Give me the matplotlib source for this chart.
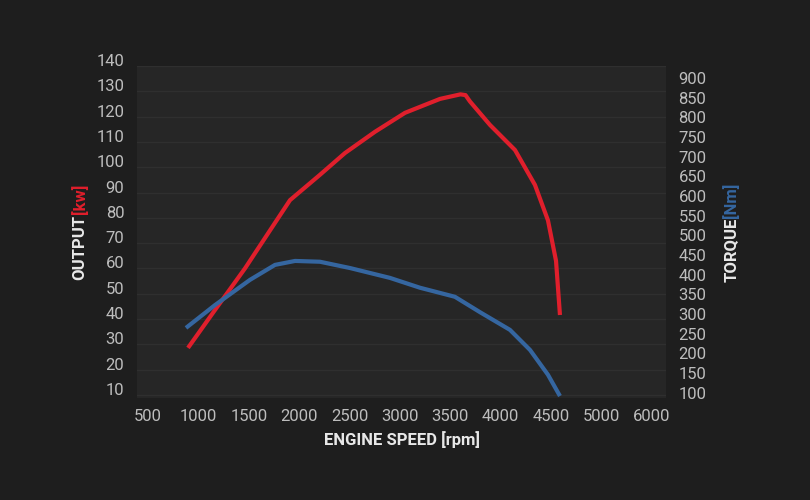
import matplotlib
matplotlib.use("Agg")
import matplotlib.pyplot as plt

rpm_out = [897, 1165, 1462, 1710, 1909, 2206, 2454, 2752, 3050, 3397, 3600, 3650, 3694, 3893, 4141, 4339, 4468, 4548, 4587]
kw_out = [28.6, 43.6, 60, 75, 87, 97, 105.6, 114, 121.5, 127, 128.8, 128.5, 126, 116.7, 106.8, 93, 79, 63, 41.6]
rpm_tq = [877, 1165, 1512, 1760, 1959, 2206, 2504, 2900, 3198, 3545, 3793, 4091, 4290, 4468, 4587]
nm_tq = [265, 323, 387, 425, 435, 433, 417, 392, 367, 344, 305, 260, 209, 146, 92]
x_ticks = [500, 1000, 1500, 2000, 2500, 3000, 3500, 4000, 4500, 5000, 5500]
x_labels = ["500", "1000", "1500", "2000", "2500", "3000", "3500", "4000", "4500", "5000", "6000"]
kw_ticks = list(range(10, 150, 10))
nm_ticks = list(range(100, 950, 50))

plt.rcParams['font.family'] = ['Roboto', 'DejaVu Sans']
BG = '#1e1e1e'
fig = plt.figure(figsize=(8.1, 5.0), dpi=100, facecolor=BG)
W, H = 810, 500
ax = fig.add_axes([137/W, (H-398)/H, (666-137)/W, (398-66)/H])
ax.set_facecolor('#262626')
ax.set_xlim(391, 5639)
ax.set_ylim(8.8, 140)
for s in ax.spines.values():
    s.set_visible(False)
ax.set_yticks(kw_ticks)
ax.grid(axis='y', color='#2f2f2f', lw=1)
ax.set_axisbelow(True)
ax.set_xticks(x_ticks)
ax.set_xticklabels(x_labels)
ax.tick_params(length=0, colors='#bdbdbd', labelsize=12)
ax.tick_params(axis='x', pad=8)
ax.tick_params(axis='y', pad=9)
for lab in ax.get_yticklabels():
    lab.set_verticalalignment('baseline')
ax.plot(rpm_out, kw_out, color='#e01f2c', lw=3, solid_capstyle='butt', zorder=3)

ax2 = ax.twinx()
ax2.set_ylim(87, 930)
ax2.set_yticks(nm_ticks)
for s in ax2.spines.values():
    s.set_visible(False)
ax2.tick_params(length=0, colors='#bdbdbd', labelsize=12, pad=9)
ax2.plot(rpm_tq, nm_tq, color='#3566a0', lw=3, solid_capstyle='butt', zorder=3)

fig.text(402/W, (H-440)/H, "ENGINE SPEED [rpm]", color='#e8e8e8', fontsize=12,
         fontweight='bold', ha='center', va='center')
fig.text(80/W, (H-280)/H, "OUTPUT", color='#e8e8e8', fontsize=12, fontweight='bold',
         rotation=90, ha='center', va='bottom')
fig.text(80/W, (H-214)/H, "[kw]", color='#e01f2c', fontsize=12, fontweight='bold',
         rotation=90, ha='center', va='bottom')
fig.text(731/W, (H-282)/H, "TORQUE", color='#e8e8e8', fontsize=12, fontweight='bold',
         rotation=90, ha='center', va='bottom')
fig.text(731/W, (H-218)/H, "[Nm]", color='#3566a0', fontsize=12, fontweight='bold',
         rotation=90, ha='center', va='bottom')

fig.savefig('out.png', dpi=100, facecolor=BG)
